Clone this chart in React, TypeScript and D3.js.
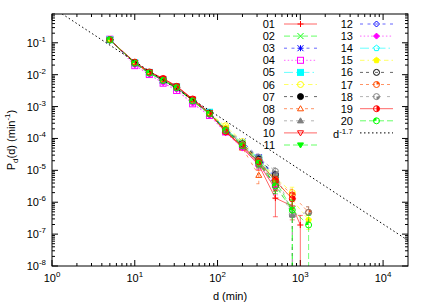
import React from 'react';
import * as d3 from 'd3';

// d bins (min) and P_d(d) per series; error bars only for the tail bins (315 .. 1260)
const durations = [5, 10, 15, 22, 32, 50, 80, 125, 200, 315, 500, 800, 1000, 1260];
const tailStart = 9;

const s01 = [0.124, 0.0237, 0.0118, 0.0071, 0.0043, 0.00164, 6.2e-4, 1.78e-4, 5.0e-5, 1.46e-5, 1.35e-6, 7.6e-7, 1.93e-7, null];
const e01 = [4.5e-6, 1.0e-6, 4.8e-7, 1.93e-7, null];
const s02 = [0.127, 0.0226, 0.0111, 0.0065, 0.0038, 0.0015, 5.95e-4, 1.96e-4, 7.1e-5, 2.0e-5, 4.65e-6, 6.0e-7, null, null];
const e02 = [5.5e-6, 1.9e-6, 6.0e-7, null, null];
const s03 = [0.121, 0.0231, 0.0116, 0.0067, 0.0041, 0.00156, 6.2e-4, 2.05e-4, 8.0e-5, 2.56e-5, 6.6e-6, null, null, null];
const e03 = [6.5e-6, 2.3e-6, null, null, null];
const s04 = [0.13, 0.0192, 0.0101, 0.0054, 0.0032, 0.00122, 5.25e-4, 1.6e-4, 5.7e-5, 1.65e-5, 3.7e-6, null, null, null];
const e04 = [4.5e-6, 1.5e-6, null, null, null];
const s05 = [0.124, 0.0237, 0.0118, 0.0067, 0.0042, 0.00156, 6.65e-4, 1.96e-4, 7.1e-5, 2.3e-5, 5.2e-6, null, null, null];
const e05 = [5.5e-6, 1.9e-6, null, null, null];
const s06 = [0.124, 0.0231, 0.0116, 0.0066, 0.004, 0.0015, 6.0e-4, 2.5e-4, 8.0e-5, 2.3e-5, 5.9e-6, 2.0e-6, null, null];
const e06 = [5.5e-6, 2.0e-6, 9.5e-7, null, null];
const s07 = [0.124, 0.0226, 0.0113, 0.0067, 0.004, 0.00156, 6.3e-4, 1.78e-4, 5.7e-5, 1.83e-5, 3.25e-6, null, null, null];
const e07 = [4.5e-6, 1.4e-6, null, null, null];
const s08 = [0.121, 0.0231, 0.0116, 0.0066, 0.004, 0.00154, 5.95e-4, 1.7e-4, 5.0e-5, 7.0e-6, null, null, null, null];
const e08 = [3.2e-6, null, null, null, null];
const s09 = [0.124, 0.0226, 0.0113, 0.0066, 0.0039, 0.0015, 5.8e-4, 1.78e-4, 6.4e-5, 1.65e-5, 4.2e-6, 4.0e-7, null, null];
const e09 = [4.5e-6, 1.7e-6, 4.0e-7, null, null];
const s10 = [0.124, 0.0237, 0.0124, 0.0076, 0.0044, 0.00173, 6.5e-4, 1.6e-4, 5.4e-5, 1.65e-5, 2.6e-6, null, null, null];
const e10 = [4.5e-6, 1.3e-6, null, null, null];
const s11 = [0.124, 0.0231, 0.0116, 0.0067, 0.004, 0.00154, 6.0e-4, 1.87e-4, 5.9e-5, 1.74e-5, 3.7e-6, null, null, null];
const e11 = [4.5e-6, 1.5e-6, null, null, null];
const s12 = [0.124, 0.0237, 0.0118, 0.0069, 0.0041, 0.00156, 6.2e-4, 1.96e-4, 6.8e-5, 2.4e-5, 5.9e-6, null, null, null];
const e12 = [5.5e-6, 2.0e-6, null, null, null];
const s13 = [0.127, 0.0202, 0.0101, 0.0056, 0.0034, 0.00128, 5.25e-4, 1.51e-4, 5.0e-5, 1.46e-5, 3.0e-6, null, null, null];
const e13 = [4.0e-6, 1.3e-6, null, null, null];
const s14 = [0.124, 0.0231, 0.0116, 0.0067, 0.0041, 0.00156, 6.3e-4, 1.87e-4, 6.4e-5, 1.92e-5, 4.65e-6, null, null, null];
const e14 = [5.0e-6, 1.9e-6, null, null, null];
const s15 = [0.124, 0.0231, 0.0116, 0.0067, 0.0041, 0.00154, 6.2e-4, 2.2e-4, 7.1e-5, 2.0e-5, 5.2e-6, null, null, 2.8e-7];
const e15 = [5.5e-6, 1.9e-6, null, null, 1.4e-7];
const s16 = [0.124, 0.0231, 0.0116, 0.0067, 0.004, 0.00154, 6.0e-4, 1.87e-4, 6.8e-5, 2.2e-5, 7.3e-6, null, null, null];
const e16 = [5.5e-6, 2.3e-6, null, null, null];
const s17 = [0.124, 0.0231, 0.0116, 0.0067, 0.004, 0.00154, 6.0e-4, 1.87e-4, 6.4e-5, 2.0e-5, 5.2e-6, 1.7e-6, null, 4.8e-7];
const e17 = [5.5e-6, 1.9e-6, 8.5e-7, null, 2.4e-7];
const s18 = [0.124, 0.0231, 0.0116, 0.0067, 0.004, 0.00154, 6.0e-4, 1.78e-4, 6.5e-5, 2.56e-5, 9.3e-6, 4.0e-7, null, 4.8e-7];
const e18 = [6.5e-6, 2.8e-6, 4.0e-7, null, 2.4e-7];
const s19 = [0.124, 0.0248, 0.0122, 0.0076, 0.0043, 0.00173, 6.2e-4, 1.6e-4, 5.9e-5, 1.83e-5, 4.65e-6, 1.28e-6, null, null];
const e19 = [5.0e-6, 1.7e-6, 6.6e-7, null, null];
const s20 = [0.124, 0.0231, 0.0113, 0.0066, 0.0039, 0.0015, 6.0e-4, 1.78e-4, 5.9e-5, 1.65e-5, 3.25e-6, 5.7e-7, null, 1.93e-7];
const e20 = [4.5e-6, 1.4e-6, 5.7e-7, null, 1.93e-7];

const seriesLabels = ['01', '02', '03', '04', '05', '06', '07', '08', '09', '10',
  '11', '12', '13', '14', '15', '16', '17', '18', '19', '20'];

// reference power law  P = refCoef * d^refExp
const refCoef = 1.3;
const refExp = -1.7;

const xTicks = [1, 10, 100, 1000, 10000];
const yTicks = [1e-8, 1e-7, 1e-6, 1e-5, 1e-4, 1e-3, 1e-2, 1e-1];
const yMax = 0.8;

const series = [
  [s01, e01], [s02, e02], [s03, e03], [s04, e04], [s05, e05], [s06, e06], [s07, e07],
  [s08, e08], [s09, e09], [s10, e10], [s11, e11], [s12, e12], [s13, e13], [s14, e14],
  [s15, e15], [s16, e16], [s17, e17], [s18, e18], [s19, e19], [s20, e20],
].map(([values, errors], i) => ({ label: seriesLabels[i], values, errors }));

const colors = ['#ff0000', '#00ff00', '#0000ff', '#ff00ff', '#00ffff', '#ffff00', '#000000', '#ff4d00', '#808080'];
const dashes = ['', '6,3', '3,4.5', '1.5,2.2', '9,3,1.5,3', '4.5,3,1.5,3', '3,3,3,6', '3,3,3,3,3,6', '3,3,3,3,3,3,3,6'];

const margin = { left: 52, top: 14, right: 408, bottom: 266 };
const font = '"Liberation Sans", Arial, Helvetica, sans-serif';

function Marker({ kind, x, y, color }: { kind: number; x: number; y: number; color: string }) {
  const r = 3;
  const sw = 1;
  const poly = (pts: [number, number][], filled: boolean) => (
    <polygon points={pts.map(p => p.join(',')).join(' ')}
      fill={filled ? color : 'none'} stroke={color} strokeWidth={sw} />
  );
  switch (kind) {
    case 0: return <path d={`M${x - r},${y}H${x + r}M${x},${y - r}V${y + r}`} stroke={color} strokeWidth={sw} />;
    case 1: return <path d={`M${x - r},${y - r}L${x + r},${y + r}M${x - r},${y + r}L${x + r},${y - r}`} stroke={color} strokeWidth={sw} />;
    case 2: return <path d={`M${x - r},${y}H${x + r}M${x},${y - r}V${y + r}M${x - r},${y - r}L${x + r},${y + r}M${x - r},${y + r}L${x + r},${y - r}`} stroke={color} strokeWidth={sw} />;
    case 3: return <rect x={x - r} y={y - r} width={2 * r} height={2 * r} fill="none" stroke={color} strokeWidth={sw} />;
    case 4: return <rect x={x - r} y={y - r} width={2 * r} height={2 * r} fill={color} stroke={color} strokeWidth={sw} />;
    case 5: return <circle cx={x} cy={y} r={r} fill="none" stroke={color} strokeWidth={sw} />;
    case 6: return <circle cx={x} cy={y} r={r} fill={color} stroke={color} strokeWidth={sw} />;
    case 7: return poly([[x, y - r], [x + r, y + r * 0.7], [x - r, y + r * 0.7]], false);
    case 8: return poly([[x, y - r], [x + r, y + r * 0.7], [x - r, y + r * 0.7]], true);
    case 9: return poly([[x, y + r], [x + r, y - r * 0.7], [x - r, y - r * 0.7]], false);
    case 10: return poly([[x, y + r], [x + r, y - r * 0.7], [x - r, y - r * 0.7]], true);
    case 11: return poly([[x, y - r], [x + r, y], [x, y + r], [x - r, y]], false);
    case 12: return poly([[x, y - r], [x + r, y], [x, y + r], [x - r, y]], true);
    case 13:
    case 14: {
      const pts = d3.range(5).map(k => {
        const a = -Math.PI / 2 + (k * 2 * Math.PI) / 5;
        return [x + r * Math.cos(a), y + r * Math.sin(a)] as [number, number];
      });
      return poly(pts, kind === 14);
    }
    default: {
      // circles with a wedge filled (C0..C4)
      const wedge = [null, [-Math.PI / 2, 0], [0, Math.PI / 2], [-Math.PI / 2, Math.PI / 2], [Math.PI, 3 * Math.PI / 2]][kind - 15];
      const arc = wedge
        ? d3.arc()({ innerRadius: 0, outerRadius: r, startAngle: wedge[0] + Math.PI / 2, endAngle: wedge[1] + Math.PI / 2 } as any)
        : null;
      return (
        <g>
          <circle cx={x} cy={y} r={r} fill="none" stroke={color} strokeWidth={sw} />
          {arc && <path d={arc} transform={`translate(${x},${y})`} fill={color} />}
        </g>
      );
    }
  }
}

function Pow({ exp, size = 11 }: { exp: string; size?: number }) {
  return (
    <>
      <tspan>10</tspan>
      <tspan dy={-5} fontSize={size * 0.72}>{exp}</tspan>
    </>
  );
}

export default function App() {
  const xScale = d3.scaleLog().domain([1, 2e4]).range([margin.left, margin.right]);
  const yScale = d3.scaleLog().domain([1e-8, yMax]).range([margin.bottom, margin.top]);
  const clampY = (v: number) => (v <= 1e-8 ? margin.bottom + 2 : yScale(v));

  const xMinor: number[] = [];
  xTicks.forEach(t => d3.range(2, 10).forEach(m => { if (t * m < 2e4) xMinor.push(t * m); }));
  const yMinor: number[] = [];
  yTicks.forEach(t => d3.range(2, 10).forEach(m => { if (t * m <= yMax) yMinor.push(t * m); }));

  const line = d3.line<[number, number]>().x(d => xScale(d[0])).y(d => yScale(d[1]));

  const legendRowY = (row: number) => 24 + row * 12.1;

  return (
    <svg width={436} height={305} style={{ position: 'absolute', left: 0, top: 0, background: '#fff' }}
      fontFamily={font}>
      <defs>
        <clipPath id="plot">
          <rect x={margin.left} y={margin.top} width={margin.right - margin.left} height={margin.bottom - margin.top} />
        </clipPath>
      </defs>

      {/* ticks */}
      <g stroke="#000" strokeWidth={1}>
        {xTicks.map(t => (
          <g key={'xt' + t}>
            <line x1={xScale(t)} x2={xScale(t)} y1={margin.bottom} y2={margin.bottom - 6} />
            <line x1={xScale(t)} x2={xScale(t)} y1={margin.top} y2={margin.top + 6} />
          </g>
        ))}
        {xMinor.map(t => (
          <g key={'xm' + t}>
            <line x1={xScale(t)} x2={xScale(t)} y1={margin.bottom} y2={margin.bottom - 3} />
            <line x1={xScale(t)} x2={xScale(t)} y1={margin.top} y2={margin.top + 3} />
          </g>
        ))}
        {yTicks.map(t => (
          <g key={'yt' + t}>
            <line x1={margin.left} x2={margin.left + 6} y1={yScale(t)} y2={yScale(t)} />
            <line x1={margin.right} x2={margin.right - 6} y1={yScale(t)} y2={yScale(t)} />
          </g>
        ))}
        {yMinor.map(t => (
          <g key={'ym' + t}>
            <line x1={margin.left} x2={margin.left + 3} y1={yScale(t)} y2={yScale(t)} />
            <line x1={margin.right} x2={margin.right - 3} y1={yScale(t)} y2={yScale(t)} />
          </g>
        ))}
      </g>

      {/* tick labels */}
      <g fontSize={11} fill="#000">
        {xTicks.map(t => (
          <text key={'xl' + t} x={xScale(t)} y={282} textAnchor="middle">
            <Pow exp={String(Math.round(Math.log10(t)))} />
          </text>
        ))}
        {yTicks.map(t => (
          <text key={'yl' + t} x={46} y={yScale(t) + 4} textAnchor="end">
            <Pow exp={String(Math.round(Math.log10(t)))} />
          </text>
        ))}
      </g>

      {/* axis titles */}
      <text x={230} y={300} textAnchor="middle" fontSize={11}>d (min)</text>
      <text transform={`translate(15,140) rotate(-90)`} textAnchor="middle" fontSize={11}>
        <tspan>P</tspan>
        <tspan dy={3} fontSize={8}>d</tspan>
        <tspan dy={-3}>(d) (min</tspan>
        <tspan dy={-5} fontSize={8}>-1</tspan>
        <tspan dy={5}>)</tspan>
      </text>

      {/* data */}
      <g clipPath="url(#plot)">
        {series.map((s, i) => {
          const color = colors[i % 9];
          const pts = durations
            .map((d, j) => [d, s.values[j]] as [number, number | null])
            .filter(p => p[1] !== null) as [number, number][];
          return (
            <g key={s.label}>
              <path d={line(pts) || ''} fill="none" stroke={color} strokeWidth={1}
                strokeOpacity={0.6} strokeDasharray={dashes[i % 9]} />
              {s.errors.map((e, k) => {
                const j = tailStart + k;
                const v = s.values[j];
                if (e === null || v === null) return null;
                const x = xScale(durations[j]);
                const y1 = clampY(v - e);
                const y2 = yScale(v + e);
                return (
                  <path key={'e' + k} d={`M${x},${y1}V${y2}M${x - 2.5},${y1}H${x + 2.5}M${x - 2.5},${y2}H${x + 2.5}`}
                    stroke={color} strokeOpacity={0.55} strokeWidth={1} strokeDasharray={dashes[i % 9]} fill="none" />
                );
              })}
              {pts.map(p => (
                <Marker key={p[0]} kind={i} x={xScale(p[0])} y={yScale(p[1])} color={color} />
              ))}
            </g>
          );
        })}
        <line x1={xScale(1)} y1={yScale(refCoef)} x2={xScale(2e4)} y2={yScale(refCoef * Math.pow(2e4, refExp))}
          stroke="#000" strokeWidth={1} strokeDasharray="1.5,2.5" />
      </g>

      {/* legend */}
      <g fontSize={11}>
        {series.map((s, i) => {
          const col = i < 11 ? 0 : 1;
          const row = col === 0 ? i : i - 11;
          const lx = col === 0 ? 275 : 353;
          const x0 = col === 0 ? 284 : 360;
          const y = legendRowY(row);
          const color = colors[i % 9];
          return (
            <g key={'lg' + s.label}>
              <text x={lx} y={y + 4} textAnchor="end">{s.label}</text>
              <line x1={x0} x2={x0 + 33} y1={y} y2={y} stroke={color} strokeOpacity={0.6}
                strokeDasharray={dashes[i % 9]} />
              <Marker kind={i} x={x0 + 16.5} y={y} color={color} />
            </g>
          );
        })}
        <text x={353} y={legendRowY(9) + 5} textAnchor="end">
          <tspan>d</tspan>
          <tspan dy={-4} fontSize={8}>-1.7</tspan>
        </text>
        <line x1={360} x2={393} y1={legendRowY(9)} y2={legendRowY(9)} stroke="#000" strokeDasharray="1.5,2.5" />
      </g>

      {/* frame */}
      <rect x={margin.left} y={margin.top} width={margin.right - margin.left} height={margin.bottom - margin.top}
        fill="none" stroke="#000" strokeWidth={1} />
    </svg>
  );
}
